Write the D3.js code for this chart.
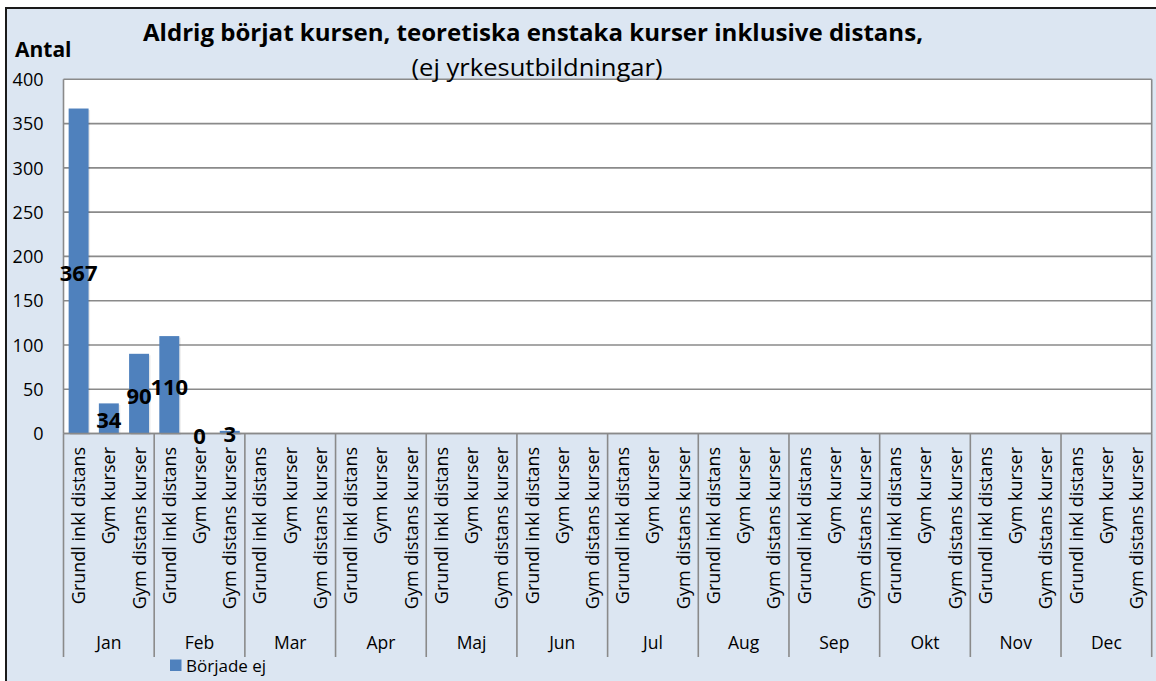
<!DOCTYPE html>
<html>
<head>
<meta charset="utf-8">
<script src="https://cdn.jsdelivr.net/npm/d3@7"></script>
<style>
  html, body { margin: 0; padding: 0; background: #ffffff; }
  svg { display: block; }
  text { font-family: "Open Sans", "Noto Sans", sans-serif; }
</style>
</head>
<body>
<svg id="chart" width="1156" height="681"></svg>
<script>
// ---- data ----
const months = ["Jan","Feb","Mar","Apr","Maj","Jun","Jul","Aug","Sep","Okt","Nov","Dec"];
const courseTypes = ["Grundl inkl distans","Gym kurser","Gym distans kurser"];
const seriesName = "Började ej";
// values per month, in courseTypes order (months without data have no bars)
const valuesJan = [367, 34, 90];
const valuesFeb = [110, 0, 3];
const monthValues = [valuesJan, valuesFeb];
const yTicks = [0, 50, 100, 150, 200, 250, 300, 350, 400];
const titleText = "Aldrig börjat kursen, teoretiska enstaka kurser inklusive distans,";
const subtitleText = "(ej yrkesutbildningar)";
const yAxisTitle = "Antal";

// ---- build rows ----
const rows = [];
months.forEach((m, mi) => {
  courseTypes.forEach((c, ci) => {
    const vals = monthValues[mi];
    rows.push({ key: m + "|" + c, month: m, course: c, value: vals ? vals[ci] : null });
  });
});

const svg = d3.select("#chart");
const W = 1156, H = 681;
const plot = { left: 63.5, right: 1151.7, top: 79.3, bottom: 433.5 };
const blue = "#4f81bd";
const gridColor = "#8a8a8a";
const bg = "#dce6f2";

// outer chart area (cropped by viewport on right/bottom)
svg.append("rect").attr("x", 6).attr("y", 8).attr("width", W + 20).attr("height", H + 20)
  .attr("fill", bg).attr("stroke", "#1a1a1a").attr("stroke-width", 2);

const x = d3.scaleBand().domain(rows.map(d => d.key))
  .range([plot.left, plot.right]).paddingInner(0.34).paddingOuter(0.17);
const y = d3.scaleLinear().domain([0, 400]).range([plot.bottom, plot.top]);

// plot area
svg.append("rect").attr("x", plot.left).attr("y", plot.top)
  .attr("width", plot.right - plot.left).attr("height", plot.bottom - plot.top)
  .attr("fill", "#ffffff");

// gridlines
svg.append("g").selectAll("line").data(yTicks).join("line")
  .attr("x1", plot.left).attr("x2", plot.right)
  .attr("y1", d => y(d)).attr("y2", d => y(d))
  .attr("stroke", gridColor).attr("stroke-width", 1.6);

// plot border (left/right)
svg.append("line").attr("x1", plot.left).attr("x2", plot.left).attr("y1", plot.top).attr("y2", plot.bottom)
  .attr("stroke", gridColor).attr("stroke-width", 1.6);
svg.append("line").attr("x1", plot.right).attr("x2", plot.right).attr("y1", plot.top).attr("y2", plot.bottom)
  .attr("stroke", gridColor).attr("stroke-width", 1.6);

// y axis labels
const yAxis = d3.axisLeft(y).tickValues(yTicks).tickSize(0).tickPadding(20);
const gy = svg.append("g").attr("transform", `translate(${plot.left},0)`).call(yAxis);
gy.select(".domain").remove();
gy.selectAll("text").attr("font-size", 18).attr("fill", "#000")
  .attr("font-family", "Open Sans").attr("dy", "0.35em");

// bar shadows
const barRows = rows.filter(d => d.value !== null);
svg.append("g").selectAll("rect").data(barRows).join("rect")
  .attr("x", d => x(d.key) + 1.5).attr("y", d => y(d.value) + 1.5)
  .attr("width", x.bandwidth()).attr("height", d => y(0) - y(d.value))
  .attr("fill", "#000").attr("opacity", 0.08);
// bars
svg.append("g").selectAll("rect").data(barRows).join("rect")
  .attr("x", d => x(d.key)).attr("y", d => y(d.value))
  .attr("width", x.bandwidth()).attr("height", d => y(0) - y(d.value))
  .attr("fill", blue);

// zero axis line on top
svg.append("line").attr("x1", plot.left).attr("x2", plot.right).attr("y1", y(0)).attr("y2", y(0))
  .attr("stroke", gridColor).attr("stroke-width", 1.6);

// data labels (centered in bar)
svg.append("g").selectAll("text").data(barRows).join("text")
  .attr("x", d => x(d.key) + x.bandwidth() / 2)
  .attr("y", d => (y(d.value) + y(0)) / 2 + 10)
  .attr("text-anchor", "middle").attr("font-size", 22).attr("font-weight", "bold")
  .attr("fill", "#000").text(d => d.value);

// category labels (rotated)
const catLabelTop = 447;
svg.append("g").selectAll("text").data(rows).join("text")
  .attr("transform", d => `translate(${x(d.key) + x.bandwidth() / 2},${catLabelTop}) rotate(-90)`)
  .attr("text-anchor", "end").attr("dy", "0.36em")
  .attr("font-size", 18).attr("fill", "#000").text(d => d.course);

// month separators
const step = x.step();
const sepBottom = 657;
const sepXs = d3.range(months.length + 1).map(i => plot.left + i * step * courseTypes.length);
svg.append("g").selectAll("line").data(sepXs).join("line")
  .attr("x1", d => d).attr("x2", d => d).attr("y1", plot.bottom).attr("y2", sepBottom)
  .attr("stroke", gridColor).attr("stroke-width", 1.6);

// month labels
svg.append("g").selectAll("text").data(months).join("text")
  .attr("x", (m, i) => x(m + "|" + courseTypes[1]) + x.bandwidth() / 2)
  .attr("y", 648.5).attr("text-anchor", "middle").attr("font-size", 17.5).attr("fill", "#000")
  .text(m => m);

// legend
svg.append("rect").attr("x", 170).attr("y", 659.5).attr("width", 11.5).attr("height", 11.5).attr("fill", blue);
svg.append("text").attr("x", 186).attr("y", 672).attr("font-size", 17).attr("fill", "#000").text(seriesName);

// titles
svg.append("text").attr("x", 143).attr("y", 40.5).attr("font-size", 23).attr("font-weight", "bold")
  .attr("textLength", 780).attr("lengthAdjust", "spacingAndGlyphs").attr("fill", "#000").text(titleText);
svg.append("text").attr("x", 411.5).attr("y", 76).attr("font-size", 24)
  .attr("textLength", 251).attr("lengthAdjust", "spacingAndGlyphs").attr("fill", "#000").text(subtitleText);
svg.append("text").attr("x", 15).attr("y", 57).attr("font-size", 21).attr("font-weight", "bold")
  .attr("fill", "#000").text(yAxisTitle);
</script>
</body>
</html>
